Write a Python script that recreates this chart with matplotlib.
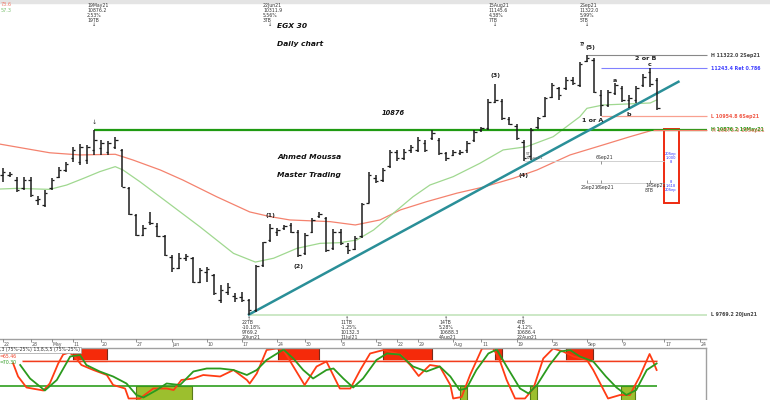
import matplotlib.pyplot as plt
from matplotlib.patches import Rectangle

# EGX 30 daily bars, one entry per trading day (22 Apr 2021 .. 15 Sep 2021)
high = [10646, 10622, 10592, 10592, 10592, 10478, 10514, 10586, 10652, 10682,
        10772, 10789, 10784, 10876, 10813, 10807, 10831, 10760, 10532, 10371,
        10305, 10383, 10317, 10245, 10125, 10137, 10131, 10113, 10048, 10054,
        10012, 9946, 9958, 9898, 9904, 9862, 10065, 10203, 10312, 10287,
        10305, 10317, 10275, 10257, 10347, 10383, 10353, 10281, 10281, 10197,
        10239, 10436, 10622, 10604, 10646, 10754, 10754, 10760, 10784, 10831,
        10813, 10873, 10825, 10742, 10754, 10754, 10807, 10873, 10891, 11059,
        11146, 11059, 10951, 10909, 10813, 10885, 10951, 11071, 11155, 11131,
        11190, 11190, 11280, 11322, 11304, 11113, 11113, 11155, 11137, 11083,
        11137, 11208, 11244, 11184]
low = [10562, 10592, 10502, 10514, 10472, 10424, 10413, 10514, 10586, 10622,
       10682, 10664, 10670, 10724, 10724, 10724, 10760, 10532, 10365, 10239,
       10239, 10305, 10233, 10119, 10024, 10042, 10089, 9958, 9958, 9964,
       9886, 9838, 9886, 9844, 9844, 9769.2, 9784, 10054, 10203, 10239,
       10275, 10257, 10113, 10125, 10257, 10347, 10143, 10155, 10185, 10132,
       10155, 10227, 10436, 10556, 10562, 10646, 10688, 10694, 10736, 10742,
       10742, 10813, 10724, 10688, 10718, 10724, 10736, 10801, 10861, 10873,
       11035, 10933, 10903, 10813, 10686, 10694, 10879, 10951, 11065, 11053,
       11113, 11143, 11131, 11280, 11095, 10955, 11011, 11083, 11041, 11005,
       11035, 11131, 11131, 10993]
opn = [10604, 10604, 10574, 10526, 10574, 10454, 10424, 10526, 10592, 10634,
       10706, 10682, 10694, 10754, 10766, 10742, 10772, 10754, 10526, 10365,
       10245, 10323, 10299, 10239, 10113, 10048, 10107, 10107, 9964, 10024,
       10006, 9856, 9904, 9880, 9874, 9856, 9796, 10065, 10215, 10263,
       10287, 10305, 10263, 10137, 10263, 10359, 10347, 10167, 10263, 10179,
       10161, 10239, 10436, 10586, 10574, 10658, 10742, 10706, 10754, 10754,
       10795, 10825, 10813, 10736, 10724, 10736, 10754, 10813, 10873, 10885,
       11041, 11047, 10939, 10897, 10801, 10718, 10891, 10957, 11071, 11125,
       11125, 11172, 11143, 11286, 11292, 11083, 11023, 11095, 11125, 11053,
       11053, 11143, 11220, 11172]
close = [10622, 10610, 10514, 10574, 10484, 10460, 10496, 10574, 10634, 10670,
         10754, 10772, 10772, 10813, 10795, 10795, 10813, 10532, 10371, 10245,
         10287, 10317, 10239, 10125, 10048, 10107, 10119, 9964, 10036, 10042,
         9898, 9916, 9934, 9868, 9856, 9796, 10060, 10203, 10287, 10275,
         10299, 10263, 10125, 10245, 10335, 10371, 10155, 10263, 10197, 10155,
         10227, 10430, 10604, 10568, 10634, 10742, 10706, 10742, 10772, 10813,
         10754, 10855, 10736, 10706, 10742, 10742, 10795, 10861, 10885, 11041,
         11053, 10945, 10909, 10825, 10706, 10873, 10945, 11065, 11143, 11083,
         11172, 11155, 11268, 11304, 11101, 11023, 11101, 11143, 11053, 11065,
         11125, 11190, 11149, 11005]

# moving averages (bar index, value)
ma_slow_x = [-0.4, 6.7, 11.0, 16.0, 18.5, 22.4, 25.6, 30.4, 35.1, 38.0, 40.8, 46.5,
             50.1, 53.6, 56.5, 60.2, 64.5, 68.3, 72.5, 75.9, 80.6, 85.3, 89.1, 92.4]
ma_slow = [10789, 10737, 10724, 10728, 10694, 10634, 10574, 10474, 10383, 10355, 10335, 10325,
           10305, 10335, 10395, 10444, 10495, 10532, 10584, 10634, 10724, 10784, 10833, 10873]
ma_fast_x = [-0.4, 2.0, 6.7, 9.1, 11.5, 13.8, 16.0, 17.1, 19.5, 23.3, 28.0, 32.8, 35.9,
             38.5, 41.8, 45.1, 47.9, 50.3, 52.7, 55.5, 58.3, 60.7, 64.0, 67.8, 71.1,
             74.4, 78.2, 82.0, 83.0, 85.3, 88.7, 92.0, 92.9]
ma_fast = [10520, 10524, 10518, 10544, 10584, 10624, 10654, 10634, 10564, 10444, 10295, 10135, 10083,
           10106, 10165, 10195, 10199, 10215, 10275, 10375, 10474, 10544, 10594, 10674, 10754,
           10773, 10833, 10953, 11003, 11023, 11029, 11035, 11053]

# trend line from the June low
tl_x = [35, 96]
tl_y = [9769.2, 11162]

# stochastic oscillator (bar index, %)
fast_x = [1.5, 2.2, 3.4, 5.8, 6.7, 7.9, 8.6, 9.5, 10.3, 11.2, 12.9, 14.8, 15.7, 17.4, 17.9,
          19.5, 21.4, 23.3, 24.3, 25.4, 27.1, 28.5, 30.9, 32.8, 34.7, 35.1, 36.1, 37.5, 38.9,
          39.9, 41.3, 42.9, 44.6, 46.0, 47.9, 49.4, 50.8, 52.2, 54.1, 56.5, 57.9, 59.1, 60.7,
          62.1, 63.6, 64.0, 65.2, 66.4, 68.1, 69.7, 70.6, 71.6, 72.8, 74.2, 75.4, 76.8, 78.2,
          79.6, 81.1, 83.0, 83.9, 86.0, 87.7, 89.1, 90.5, 91.9, 92.4, 92.9]
fast = [70, 44, 22, 16, 30, 70, 88, 92, 83, 67, 57, 47, 27, 20, 0,
        0, 20, 20, 17, 37, 40, 47, 44, 57, 37, 30, 50, 97, 100,
        97, 64, 27, 64, 74, 20, 20, 57, 90, 97, 88, 67, 45, 67,
        64, 27, 0, 3, 47, 100, 100, 77, 37, 0, 0, 20, 80, 100,
        94, 84, 77, 57, 0, 7, 7, 44, 89, 74, 57]
slow_x = [2.5, 3.9, 6.0, 7.7, 9.6, 11.0, 11.9, 13.8, 15.7, 17.6, 19.0, 20.0, 21.9, 23.3,
          25.2, 27.1, 29.0, 30.9, 32.8, 34.7, 36.1, 37.5, 39.9, 41.3, 42.7, 44.1, 46.0, 47.0,
          48.4, 49.8, 51.2, 53.1, 54.6, 56.4, 58.3, 60.2, 62.1, 63.6, 64.9, 65.9, 67.3, 69.0,
          70.2, 71.6, 73.5, 74.7, 75.9, 77.7, 79.2, 80.6, 82.0, 83.9, 85.7, 87.2, 88.6, 90.0,
          91.5, 92.9]
slow = [67, 40, 16, 37, 84, 87, 67, 54, 44, 30, 7, 2, 17, 30,
        27, 54, 60, 60, 57, 47, 57, 77, 98, 80, 57, 40, 57, 60,
        40, 22, 40, 77, 90, 88, 64, 54, 64, 44, 17, 20, 57, 90,
        98, 64, 20, 10, 27, 67, 94, 97, 84, 74, 44, 22, 7, 17,
        57, 70]
ob_start = [10.0, 39.1, 54.0, 69.9, 80.0]
ob_end = [14.9, 44.9, 61.0, 70.9, 83.9]
os_start = [19.0, 65.0, 74.9, 87.9]
os_end = [26.9, 65.9, 75.9, 89.9]

tick_pos = [0, 4, 7, 10, 14, 19, 24, 29, 34, 39, 43, 48, 53, 56, 59, 64, 68, 73, 78, 83, 88, 94, 99]
tick_lab = ['22', '28', 'May', '11', '20', '27', 'Jun', '10', '17', '24', '30', '8', '15', '22',
            '29', 'Aug', '11', '19', '26', 'Sep', '9', '17', '24']

W, H = 770, 400
X0, DX = 2.6, 7.04   # pixel x of bar 0 and pixels per bar


def xi(px):
    return (px - X0) / DX


def yp(py):  # pixel row -> price on main panel
    return 11651.2 - 5.984 * py


def box(l, t, w, h):
    return [l / W, 1 - (t + h) / H, w / W, h / H]


fig = plt.figure(figsize=(W / 100, H / 100), dpi=100)
fig.patches.append(Rectangle((0, 1 - 3 / H), 1, 3 / H, transform=fig.transFigure,
                             color='#e4e4e4', zorder=-5))

ax = fig.add_axes(box(0, 5, W, 334))
ax.set_xlim(xi(0), xi(W))
ax.set_ylim(yp(339), yp(5))
ax.axis('off')

ax.plot(ma_slow_x, ma_slow, color='#f4826e', lw=0.9)
ax.plot(ma_fast_x, ma_fast, color='#a0d890', lw=0.9)

# levels
ax.hlines(10876.2, 13, xi(707), color='#1f9a12', lw=1.6)
ax.hlines(10873, 92.4, xi(707), color='#f4826e', lw=0.9)
ax.hlines(9769.2, 35, xi(707), color='#c4e4bc', lw=1.2)
ax.hlines(11322.0, 83, xi(707), color='#888888', lw=0.8)
ax.hlines(11243.4, 85, xi(707), color='#8080ff', lw=0.8)
ax.hlines(10954.8, 85, xi(707), color='#f8a090', lw=0.9)
ax.hlines(yp(161), 74, xi(664), color='#d0d0d0', lw=0.7)
ax.hlines(yp(183), 83, xi(664), color='#d0d0d0', lw=0.7)
ax.vlines([85], yp(161), yp(164), color='#666666', lw=0.5)
ax.vlines([83, 85, 92], yp(180), yp(183), color='#666666', lw=0.5)

ax.plot(tl_x, tl_y, color='#2a8f98', lw=1.8)

# OHLC bars
idx = list(range(len(high)))
ax.vlines(idx, low, high, color='#1c1c1c', lw=1.1)
ax.hlines(opn, [i - 0.35 for i in idx], idx, color='#1c1c1c', lw=0.9)
ax.hlines(close, idx, [i + 0.35 for i in idx], color='#1c1c1c', lw=0.9)

ax.add_patch(Rectangle((xi(664), yp(203)), xi(678.5) - xi(664), yp(129) - yp(203),
                       fill=False, ec='#ee2a10', lw=1.4))
ax.text(xi(671), yp(158), '20Sep\n1.000\n8', fontsize=2.6, color='#3030ff',
        ha='center', va='center', linespacing=0.9)
ax.text(xi(671), yp(186), '8\n1.618\n20Sep', fontsize=2.6, color='#3030ff',
        ha='center', va='center', linespacing=0.9)

small = dict(fontsize=3.3, color='#333333', linespacing=0.95)
ax.text(xi(596), yp(157), '6Sep21', ha='left', va='center', **small)
ax.text(xi(526), yp(156), '5TB\n22Aug21', ha='left', va='center', fontsize=2.8,
        color='#555555', linespacing=0.9)
ax.text(xi(581), yp(187), '2Sep21', ha='left', va='center', **small)
ax.text(xi(597), yp(187), '6Sep21', ha='left', va='center', **small)
ax.text(xi(645), yp(188), '14Sep21\n8TB', ha='left', va='center', **small)

# right side labels
rl = dict(fontsize=3.4, fontweight='bold', va='center', ha='left')
ax.text(xi(711), 11322.0, 'H 11322.0 2Sep21', color='#444444', **rl)
ax.text(xi(711), 11243.4, '11243.4 Ret 0.786', color='#4040ff', **rl)
ax.text(xi(711), 10954.8, 'L 10954.8 6Sep21', color='#f05a48', **rl)
ax.text(xi(711), 10876.2, 'H 10876.2 19May21', color='#2a9a1a', **rl)
ax.text(xi(712.5), 10873, 'H 10873.0 15Sep21', color='#e07050', alpha=0.7, **rl)
ax.text(xi(711), 9769.2, 'L 9769.2 20Jun21', color='#444444', **rl)

# swing annotations above highs
tops = [(13, '19May21\n10876.2\n2.53%\n19TB'), (38, '22Jun21\n10311.9\n5.56%\n3TB'),
        (70, '15Aug21\n11145.6\n4.38%\n7TB'), (83, '2Sep21\n11322.0\n5.99%\n5TB')]
for b, s in tops:
    ax.text(b - 1.0, yp(3.5), s, ha='left', va='top', **small)
    ax.text(b, yp(24), '↓', ha='center', va='center', fontsize=3.6, color='#333333')
ax.text(13, yp(122), '↓', ha='center', va='center', fontsize=4.5, color='#333333')

bots = [(35, '22TB\n-10.18%\n9769.2\n20Jun21'), (49, '11TB\n-1.25%\n10132.3\n11Jul21'),
        (63, '14TB\n5.28%\n10688.3\n4Aug21'), (74, '4TB\n-4.12%\n10686.4\n22Aug21')]
for b, s in bots:
    ax.text(b, yp(318), '↑', ha='center', va='center', fontsize=3.6, color='#333333')
    ax.text(b - 1.0, yp(320.5), s, ha='left', va='top', **small)

# wave labels
wl = dict(fontsize=4.6, fontweight='bold', color='#222222', ha='center', va='center')
ax.text(xi(270), yp(216), '(1)', **wl)
ax.text(xi(298), yp(267), '(2)', **wl)
ax.text(xi(495), yp(75), '(3)', **wl)
ax.text(xi(523), yp(175), '(4)', **wl)
ax.text(xi(590), yp(47), '(5)', **wl)
ax.text(xi(582), yp(44), '??', fontsize=3.3, fontweight='bold', color='#222222',
        ha='center', va='center')
ax.text(xi(646), yp(58), '2 or B', **wl)
ax.text(xi(650), yp(65), 'c', **wl)
ax.text(xi(615), yp(81), 'a', **wl)
ax.text(xi(629), yp(114), 'b', **wl)
ax.text(xi(593), yp(121), '1 or A', **wl)

tl = dict(fontsize=5.4, fontweight='bold', style='italic', color='#111111', ha='left', va='center')
ax.text(xi(277), yp(26), 'EGX 30', **tl)
ax.text(xi(277), yp(44), 'Daily chart', **tl)
ax.text(xi(277), yp(157), 'Ahmed Moussa', **tl)
ax.text(xi(277), yp(175), 'Master Trading', **tl)
ax.text(xi(393), yp(113), '10876', fontsize=4.8, fontweight='bold', style='italic',
        color='#111111', ha='center', va='center')

fig.text(1 / W, 1 - 5 / H, '73.6', fontsize=3.6, color='#f07a6a', va='center')
fig.text(1 / W, 1 - 11 / H, '57.3', fontsize=3.6, color='#7cc070', va='center')

# date strip
axd = fig.add_axes(box(0, 339, 706, 9))
axd.set_xlim(xi(0), xi(706))
axd.set_ylim(0, 1)
axd.axis('off')
axd.plot([xi(0), xi(706)], [1, 1], color='#a0a0a0', lw=1.0, clip_on=False)
axd.vlines(tick_pos, 0.65, 1, color='#666666', lw=0.5)
for p, s in zip(tick_pos, tick_lab):
    axd.text(p + 0.1, 0.38, s, fontsize=3.3, color='#555555', ha='left', va='center')

# oscillator
axo = fig.add_axes(box(0, 348, 706, 52))
axo.set_xlim(xi(0), xi(706))
axo.set_ylim(-3, 101)
axo.set_xticks([])
axo.set_yticks([])
for side in ['left', 'bottom']:
    axo.spines[side].set_visible(False)
for side in ['top', 'right']:
    axo.spines[side].set_color('#a0a0a0')
    axo.spines[side].set_linewidth(1.0)

for s, e in zip(ob_start, ob_end):
    axo.add_patch(Rectangle((s, 75), e - s, 27, fc='#f52a0a', ec='#7a2a1a', lw=0.8))
for s, e in zip(os_start, os_end):
    axo.add_patch(Rectangle((s, -4), e - s, 29, fc='#9cbf2e', ec='#5a7a1a', lw=0.8))
axo.hlines(75, xi(22), xi(657), color='#f23c1c', lw=1.0)
axo.hlines(76.5, xi(22), xi(657), color='#f8b0a0', lw=0.6)
axo.hlines(25, xi(0), xi(657), color='#2e9e1e', lw=1.2)
axo.plot(fast_x, fast, color='#ff3c14', lw=1.3)
axo.plot(slow_x, slow, color='#2b9a1e', lw=1.3)

axo.text(xi(0), 97, ',3 (75%-25%) 13,8,5,5 (75%-25%)', fontsize=3.3, color='#333333',
         ha='left', va='center', bbox=dict(fc='white', ec='#a0a0a0', lw=0.5, pad=0.6))
axo.text(xi(0), 85, '=65.46', fontsize=3.3, color='#f04028', ha='left', va='center')
axo.text(xi(0), 73, '=70.30', fontsize=3.3, color='#2b9a1e', ha='left', va='center')

fig.savefig('out.png', dpi=100)
